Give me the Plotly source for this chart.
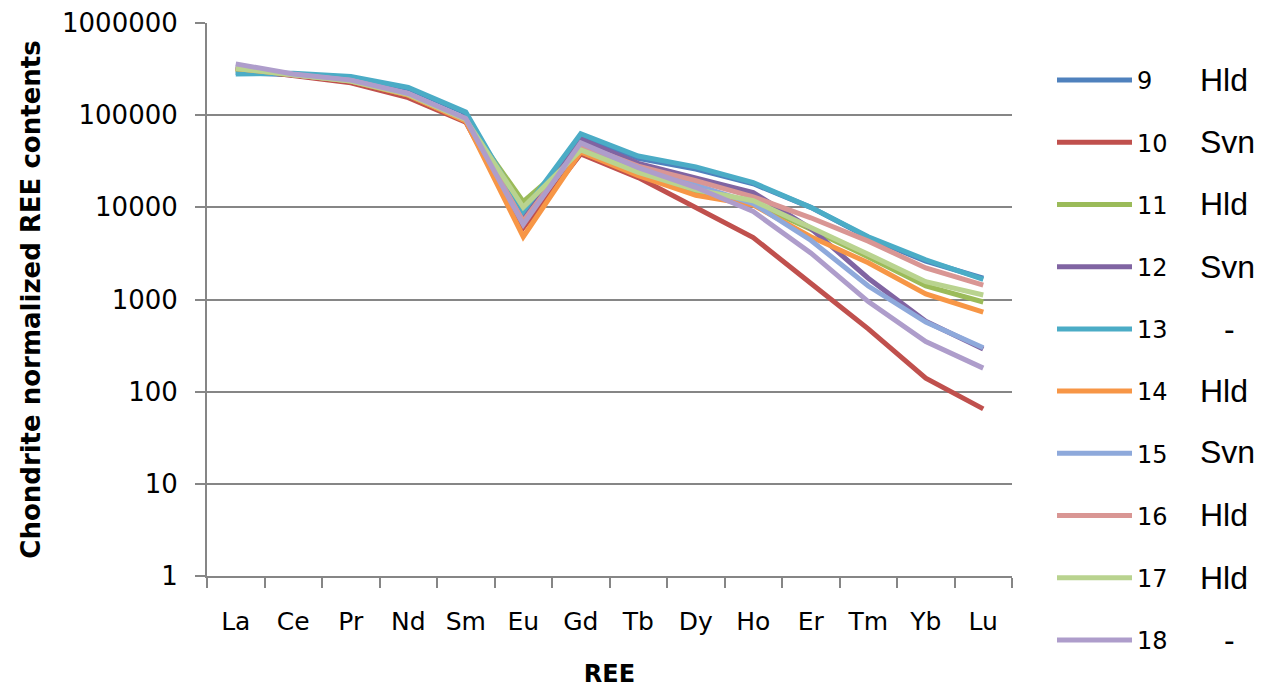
import plotly.graph_objects as go

categories = ["La", "Ce", "Pr", "Nd", "Sm", "Eu", "Gd", "Tb", "Dy", "Ho", "Er", "Tm", "Yb", "Lu"]

sample_ids = ["9", "10", "11", "12", "13", "14", "15", "16", "17", "18"]
sample_types = ["Hld", "Svn", "Hld", "Svn", "-", "Hld", "Svn", "Hld", "Hld", "-"]
colors = ["#4F81BD", "#C0504D", "#9BBB59", "#8064A2", "#4BACC6",
          "#F79646", "#8EA9DB", "#D99694", "#B9D38F", "#AE9DCB"]

s9 = [290000, 275000, 258000, 195000, 105000, 8300, 60000, 34000, 26000, 18000, 10000, 4700, 2600, 1700]
s10 = [320000, 270000, 225000, 155000, 84000, 6000, 38000, 21000, 10000, 4700, 1500, 480, 140, 65]
s11 = [310000, 275000, 235000, 165000, 88000, 11500, 40000, 23000, 15000, 11200, 5800, 2900, 1400, 940]
s12 = [330000, 275000, 235000, 170000, 88000, 7500, 55000, 30000, 21000, 14500, 5900, 1700, 580, 290]
s13 = [280000, 285000, 262000, 200000, 108000, 9000, 63000, 36000, 27500, 18500, 10000, 4800, 2700, 1650]
s14 = [320000, 275000, 235000, 165000, 86000, 4800, 40000, 22000, 13500, 10600, 4800, 2500, 1150, 730]
s15 = [340000, 275000, 238000, 170000, 90000, 7000, 47000, 26000, 17500, 11000, 4400, 1400, 570, 300]
s16 = [330000, 275000, 238000, 170000, 90000, 7000, 48000, 28000, 19500, 13000, 7700, 4300, 2200, 1430]
s17 = [320000, 275000, 235000, 168000, 90000, 10000, 42000, 24000, 15500, 11800, 6100, 3100, 1560, 1120]
s18 = [360000, 280000, 240000, 172000, 92000, 6500, 50000, 27000, 16500, 9000, 3200, 950, 350, 180]

series = [s9, s10, s11, s12, s13, s14, s15, s16, s17, s18]

y_ticks = [1, 10, 100, 1000, 10000, 100000, 1000000]

fig = go.Figure()
for i, (sid, vals) in enumerate(zip(sample_ids, series)):
    fig.add_trace(go.Scatter(
        x=categories, y=vals, mode="lines", name=sid,
        legendgroup=sid,
        line=dict(color=colors[i], width=5),
    ))

# plot area in pixels
L, R, T, B = 207, 1012, 23, 576
W, H = 1274, 688

def px_to_paper(px, py):
    return (px - L) / (R - L), (B - py) / (B - T)

legend_y = [80, 142, 204, 267, 329, 391, 452, 515, 578, 640]
for t, py in zip(sample_types, legend_y):
    xp, yp = px_to_paper(1198 if t != "-" else 1222, py)
    fig.add_annotation(x=xp, y=yp, xref="paper", yref="paper", text=t,
                       showarrow=False, xanchor="left", yanchor="middle",
                       font=dict(family="Liberation Sans", size=32, color="black"))

lx, ly = px_to_paper(1052, 58)
fig.update_layout(
    width=W, height=H,
    margin=dict(l=L, r=W - R, t=T, b=H - B, autoexpand=False),
    paper_bgcolor="white", plot_bgcolor="white",
    showlegend=True,
    legend=dict(x=lx, y=ly, xanchor="left", yanchor="top",
                font=dict(family="DejaVu Sans", size=24, color="black"),
                tracegroupgap=28, itemwidth=75, bgcolor="rgba(0,0,0,0)",
                maxheight=700),
    xaxis=dict(
        type="category", categoryorder="array", categoryarray=categories,
        tickson="boundaries", ticks="outside", ticklen=10, tickwidth=2, tickcolor="#868686",
        showline=True, linecolor="#868686", linewidth=2,
        showgrid=False, automargin=False,
        tickfont=dict(family="DejaVu Sans", size=25, color="black"),
        ticklabelstandoff=22,
        title=dict(text="<b>REE</b>", font=dict(family="DejaVu Sans", size=24, color="black"), standoff=30),
        range=[-0.5, 13.5],
    ),
    yaxis=dict(
        type="log", range=[0, 6],
        tickvals=y_ticks, ticktext=[str(v) for v in y_ticks],
        ticks="outside", ticklen=10, tickwidth=2, tickcolor="#868686",
        showline=True, linecolor="#868686", linewidth=2,
        showgrid=True, gridcolor="#868686", gridwidth=2,
        automargin=False,
        tickfont=dict(family="DejaVu Sans", size=26, color="black"),
        ticklabelstandoff=12,
        title=dict(text="<b>Chondrite normalized REE contents</b>",
                   font=dict(family="DejaVu Sans", size=26, color="black"), standoff=14),
        zeroline=False,
    ),
)

fig.write_html("out.html")
